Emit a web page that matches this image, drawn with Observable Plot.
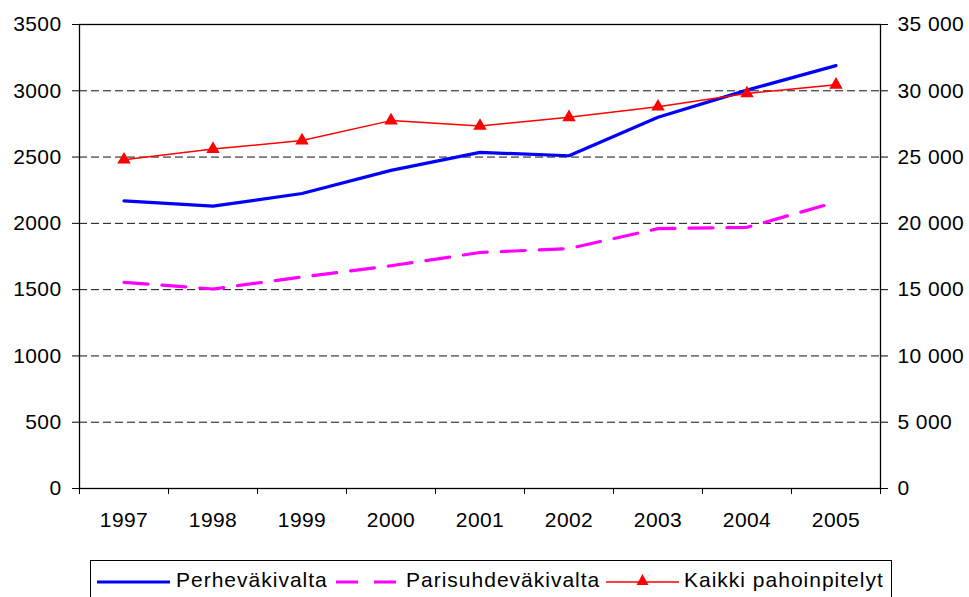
<!DOCTYPE html>
<html>
<head>
<meta charset="utf-8">
<script src="https://cdn.jsdelivr.net/npm/d3@7"></script>
<script src="https://cdn.jsdelivr.net/npm/@observablehq/plot@0.6"></script>
<style>
  body { margin: 0; background: #fff; font-family: "Liberation Sans", Arial, sans-serif; }
  #wrap { position: relative; width: 969px; height: 597px; overflow: hidden; }
  #legend { position: absolute; left: 90px; top: 560px; width: 802px; height: 50px; border: 1px solid #000; box-sizing: border-box; }
  .sw { position: absolute; top: 10px; }
  .lt { position: absolute; top: 7px; font-size: 21px; letter-spacing: 1.0px; color: #000; white-space: nowrap; }
</style>
</head>
<body>
<div id="wrap"><div id="chart"></div><div id="legend"></div></div>
<script>
const years = [1997, 1998, 1999, 2000, 2001, 2002, 2003, 2004, 2005];
const perhevakivalta = [2170, 2130, 2225, 2400, 2535, 2510, 2800, 3005, 3190];
const parisuhdevakivalta = [1555, 1505, 1595, 1680, 1780, 1810, 1960, 1970, 2160];
const kaikkiPahoinpitelyt = [24800, 25600, 26250, 27750, 27350, 28000, 28800, 29800, 30450];
const leftTicks = [0, 500, 1000, 1500, 2000, 2500, 3000, 3500];
const gridTicks = [500, 1000, 1500, 2000, 2500, 3000];
const seriesNames = ["Perheväkivalta", "Parisuhdeväkivalta", "Kaikki pahoinpitelyt"];

const blue = "#0000ff", magenta = "#ff00ff", red = "#ff0000";
const boundaries = d3.range(years[0] - 0.5, years[years.length - 1] + 1, 1);
const fmtRight = d => d3.format(",")(d * 10).replace(/,/g, " ");

const blueData = years.map((y, i) => ({year: y, v: perhevakivalta[i]}));
const magData = years.map((y, i) => ({year: y, v: parisuhdevakivalta[i]}));
const redData = years.map((y, i) => ({year: y, v: kaikkiPahoinpitelyt[i] / 10}));

const plot = Plot.plot({
  width: 969,
  height: 555,
  marginLeft: 79,
  marginRight: 89,
  marginTop: 24,
  marginBottom: 67,
  style: {fontFamily: "'Liberation Sans', Arial, sans-serif", fontSize: "21px", letterSpacing: "0.4px", color: "#000", background: "#fff"},
  x: {type: "linear", domain: [years[0] - 0.5, years[years.length - 1] + 0.5]},
  y: {domain: [0, 3500]},
  marks: [
    Plot.ruleY(gridTicks, {stroke: "#111", strokeWidth: 1, strokeDasharray: "8,4"}),
    Plot.frame({stroke: "#000", strokeWidth: 1.3}),
    Plot.axisY({anchor: "left", ticks: leftTicks, tickSize: 7, tickPadding: 11, label: null, fontSize: 21, tickFormat: d => String(d)}),
    Plot.axisY({anchor: "right", ticks: leftTicks, tickSize: 7, tickPadding: 10, label: null, fontSize: 21, tickFormat: fmtRight}),
    Plot.axisX({ticks: boundaries, tickSize: 6, tickFormat: () => "", label: null}),
    Plot.axisX({ticks: years, tickSize: 0, tickPadding: 24, fontSize: 21, tickFormat: d => String(d), label: null}),
    Plot.line(magData, {x: "year", y: "v", stroke: magenta, strokeWidth: 3.2, strokeDasharray: "24,14"}),
    Plot.line(blueData, {x: "year", y: "v", stroke: blue, strokeWidth: 3.2}),
    Plot.line(redData, {x: "year", y: "v", stroke: red, strokeWidth: 1.5}),
    Plot.dot(redData, {x: "year", y: "v", symbol: "triangle", r: 5, fill: red, stroke: "none"})
  ]
});
document.getElementById("chart").appendChild(plot);

const legend = document.getElementById("legend");
const items = [
  {sl: 6, tl: 85, swatch: `<svg width="74" height="20"><line x1="0" y1="11" x2="73" y2="11" stroke="${blue}" stroke-width="3.2"/></svg>`, name: seriesNames[0]},
  {sl: 245, tl: 315, swatch: `<svg width="62" height="20"><line x1="0" y1="11" x2="62" y2="11" stroke="${magenta}" stroke-width="3.2" stroke-dasharray="22,16"/></svg>`, name: seriesNames[1]},
  {sl: 515, tl: 593, swatch: `<svg width="74" height="20"><line x1="0" y1="11" x2="73" y2="11" stroke="${red}" stroke-width="1.5"/><path d="M36.5,3 L42.5,14 L30.5,14 Z" fill="${red}"/></svg>`, name: seriesNames[2]}
];
for (const it of items) {
  const s = document.createElement("div");
  s.className = "sw";
  s.style.left = it.sl + "px";
  s.innerHTML = it.swatch;
  legend.appendChild(s);
  const t = document.createElement("div");
  t.className = "lt";
  t.style.left = it.tl + "px";
  t.textContent = it.name;
  legend.appendChild(t);
}
</script>
</body>
</html>
